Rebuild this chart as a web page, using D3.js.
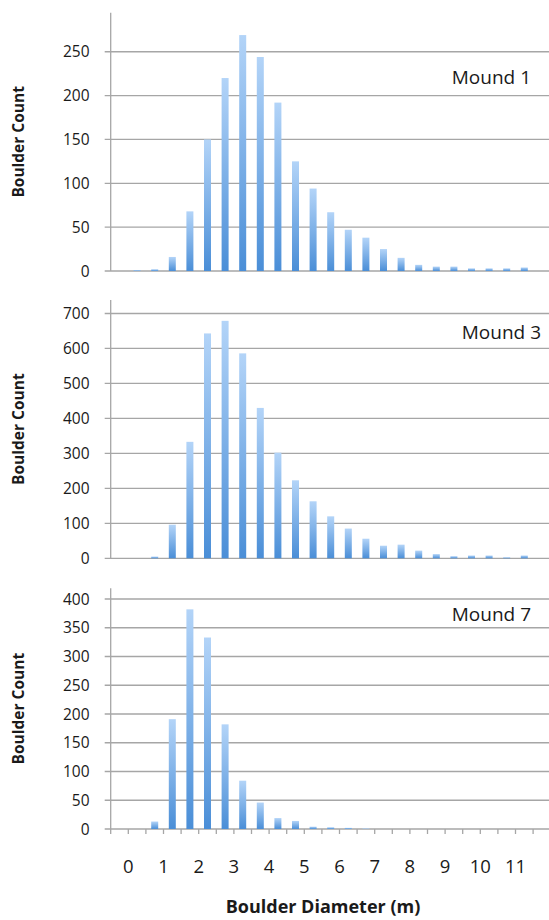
<!DOCTYPE html>
<html>
<head>
<meta charset="utf-8">
<script src="https://cdn.jsdelivr.net/npm/d3@7"></script>
<style>
  body { margin: 0; background: #fff; }
  text { font-family: "Open Sans", "Liberation Sans", sans-serif; fill: #1a1a1a; }
</style>
</head>
<body>
<svg id="chart"></svg>
<script>
// bins: upper edge of each 0.5 m diameter class
var diameters = [0, 0.5, 1, 1.5, 2, 2.5, 3, 3.5, 4, 4.5, 5, 5.5, 6, 6.5, 7, 7.5, 8, 8.5, 9, 9.5, 10, 10.5, 11, 11.5, 12];
var mound1 = [0, 1, 2, 16, 68, 150, 220, 269, 244, 192, 125, 94, 67, 47, 38, 25, 15, 7, 5, 5, 3, 3, 3, 4, 0];
var mound3 = [0, 0, 5, 96, 333, 643, 679, 586, 430, 302, 223, 163, 120, 85, 56, 36, 39, 22, 12, 6, 8, 8, 3, 8, 0];
var mound7 = [0, 0, 13, 191, 382, 333, 182, 84, 46, 19, 14, 4, 3, 2, 1, 0, 0, 0, 0, 0, 0, 0, 0, 0, 0];
var names = ["Mound 1", "Mound 3", "Mound 7"];
var ticks1 = [0, 50, 100, 150, 200, 250];
var ticks3 = [0, 100, 200, 300, 400, 500, 600, 700];
var ticks7 = [0, 50, 100, 150, 200, 250, 300, 350, 400];
var xLabels = [0, 1, 2, 3, 4, 5, 6, 7, 8, 9, 10, 11];

var width = 549, height = 920;

var svg = d3.select("#chart")
  .attr("width", width)
  .attr("height", height);

// bar gradient, light at the top
var grad = svg.append("defs").append("linearGradient")
  .attr("id", "barGrad")
  .attr("x1", 0).attr("y1", 0).attr("x2", 0).attr("y2", 1);
grad.append("stop").attr("offset", "0%").attr("stop-color", "#b3d4f8");
grad.append("stop").attr("offset", "100%").attr("stop-color", "#4a8ed7");

// one entry per panel: top of axis, baseline, value at axis top
var panels = [
  {values: mound1, ticks: ticks1, top: 12.7, base: 271, vmax: 294.5, labelY: 84},
  {values: mound3, ticks: ticks3, top: 300, base: 558.3, vmax: 738.6, labelY: 339},
  {values: mound7, ticks: ticks7, top: 588.3, base: 829, vmax: 418.6, labelY: 621}
];

var x = d3.scaleLinear()
  .domain([-0.5, 12])
  .range([110.7, 110.7 + 25 * 17.6]);

var barW = 7;

panels.forEach(function(p, k) {
  var y = d3.scaleLinear()
    .domain([0, p.vmax])
    .range([p.base, p.top]);

  var g = svg.append("g");

  // gridlines with small ticks left of the axis
  g.append("g")
    .selectAll("line")
    .data(p.ticks)
    .enter()
    .append("line")
      .attr("x1", x(-0.5) - 6)
      .attr("x2", width)
      .attr("y1", function(d) { return y(d); })
      .attr("y2", function(d) { return y(d); })
      .attr("stroke", "#a6a6a6")
      .attr("stroke-width", 1.3);

  // y axis line
  g.append("line")
    .attr("x1", x(-0.5)).attr("x2", x(-0.5))
    .attr("y1", y(p.vmax)).attr("y2", y(0))
    .attr("stroke", "#a6a6a6")
    .attr("stroke-width", 1.3);

  // tick labels
  g.append("g")
    .selectAll("text")
    .data(p.ticks)
    .enter()
    .append("text")
      .attr("x", 89.5)
      .attr("y", function(d) { return y(d); })
      .attr("dy", "0.36em")
      .attr("text-anchor", "end")
      .style("font-size", "15.5px")
      .text(function(d) { return d; });

  // bars
  g.append("g")
    .selectAll("rect")
    .data(p.values)
    .enter()
    .append("rect")
      .attr("x", function(d, i) { return x(diameters[i] - 0.25) - barW / 2; })
      .attr("y", function(d) { return y(d); })
      .attr("width", barW)
      .attr("height", function(d) { return y(0) - y(d); })
      .attr("fill", "url(#barGrad)");

  // panel name
  g.append("text")
    .attr("x", k == 1 ? 541 : 531)
    .attr("y", p.labelY)
    .attr("text-anchor", "end")
    .style("font-size", "19px")
    .text(names[k]);

  // y title
  g.append("text")
    .attr("transform", "translate(" + 24 + "," + ((p.top + p.base) / 2) + ") rotate(-90)")
    .attr("text-anchor", "middle")
    .style("font-size", "15.5px")
    .style("font-weight", "bold")
    .text("Boulder Count");

  // x ticks only on the bottom panel
  if (k == 2) {
    g.append("g")
      .selectAll("line")
      .data(diameters)
      .enter()
      .append("line")
        .attr("x1", function(d) { return x(d - 0.5); })
        .attr("x2", function(d) { return x(d - 0.5); })
        .attr("y1", y(0))
        .attr("y2", y(0) + 5)
        .attr("stroke", "#a6a6a6")
        .attr("stroke-width", 1.3);

    g.append("g")
      .selectAll("text")
      .data(xLabels)
      .enter()
      .append("text")
        .attr("x", function(d) { return x(d); })
        .attr("y", 873)
        .attr("text-anchor", "middle")
        .style("font-size", "18.5px")
        .text(function(d) { return d; });
  }
});

// x title
svg.append("text")
  .attr("x", 323)
  .attr("y", 913)
  .attr("text-anchor", "middle")
  .style("font-size", "18px")
  .style("font-weight", "bold")
  .text("Boulder Diameter (m)");
</script>
</body>
</html>
